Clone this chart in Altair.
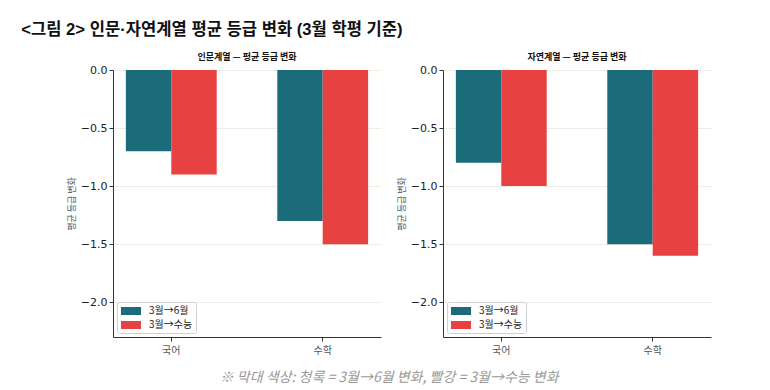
import altair as alt
import pandas as pd

subjects = ["국어", "수학"]
series = ["3월→6월", "3월→수능"]
humanities_jun = [-0.7, -1.3]
humanities_csat = [-0.9, -1.5]
science_jun = [-0.8, -1.5]
science_csat = [-1.0, -1.6]
colors = ["#1b6b7b", "#e84142"]
y_ticks = [0.0, -0.5, -1.0, -1.5, -2.0]

main_title = "<그림 2> 인문·자연계열 평균 등급 변화 (3월 학평 기준)"
caption = "※ 막대 색상: 청록 = 3월→6월 변화, 빨강 = 3월→수능 변화"
panel_titles = ["인문계열 — 평균 등급 변화", "자연계열 — 평균 등급 변화"]

AX_FONT = "DejaVu Sans, Noto Sans CJK KR"
KR_FONT = "Noto Sans CJK KR"


def make_df(jun, csat):
    rows = []
    for s, a, b in zip(subjects, jun, csat):
        rows.append({"subject": s, "series": series[0], "value": a})
        rows.append({"subject": s, "series": series[1], "value": b})
    return pd.DataFrame(rows)


def panel(df, title):
    return alt.Chart(df).mark_bar().encode(
        x=alt.X("subject:N", sort=subjects, title=None,
                scale=alt.Scale(paddingInner=0.4, paddingOuter=0.085),
                axis=alt.Axis(labelAngle=0, labelFont=KR_FONT, labelFontSize=10,
                              labelColor="#555", tickSize=4, tickColor="#333",
                              domainColor="#333", labelPadding=4, grid=False)),
        xOffset=alt.XOffset("series:N", sort=series,
                            scale=alt.Scale(paddingInner=0, paddingOuter=0)),
        y=alt.Y("value:Q", scale=alt.Scale(domain=[-2.3, 0], nice=False, zero=False),
                axis=alt.Axis(values=y_ticks, format=".1f", title="평균 등급 변화",
                              titleFont=KR_FONT, titleFontSize=9, titleFontWeight="normal",
                              titleColor="#555", titlePadding=4,
                              labelFont=AX_FONT, labelFontSize=11, labelColor="#222",
                              labelPadding=2, tickSize=4, tickColor="#333",
                              domainColor="#333", grid=True, gridColor="#efece4")),
        color=alt.Color("series:N", sort=series,
                        scale=alt.Scale(domain=series, range=colors),
                        legend=alt.Legend(title=None, orient="bottom-left", offset=4,
                                          padding=3, strokeColor="#d0d0d0", fillColor="white",
                                          cornerRadius=2, rowPadding=3,
                                          symbolType="M-0.833,-0.667H2.5V0.667H-0.833Z",
                                          symbolSize=144, symbolStrokeWidth=0,
                                          labelFont=KR_FONT, labelFontSize=10,
                                          labelColor="#222", labelOffset=17)),
    ).properties(
        width=268, height=267,
        title=alt.TitleParams(title, font=KR_FONT, fontSize=9, fontWeight="bold",
                              color="#111", offset=2),
    )


left = panel(make_df(humanities_jun, humanities_csat), panel_titles[0])
right = panel(make_df(science_jun, science_csat), panel_titles[1])

inner = alt.hconcat(left, right, spacing=16).resolve_legend(color="independent").resolve_scale(color="independent").properties(
    title=alt.TitleParams(caption, orient="bottom", anchor="middle", font=KR_FONT,
                          fontSize=14, fontStyle="italic", fontWeight="normal",
                          color="#999", offset=16)
)

chart = alt.vconcat(inner).properties(
    title=alt.TitleParams(main_title, anchor="start", font="Liberation Sans, Noto Sans CJK KR",
                          fontSize=16.6, fontWeight="bold", color="#111", dx=-46, offset=14),
    padding={"left": 13, "top": 14, "right": 5, "bottom": 5},
).configure_view(stroke=None).configure_concat(spacing=0)

chart.save("out.html", embed_options={"renderer": "svg", "actions": False})
